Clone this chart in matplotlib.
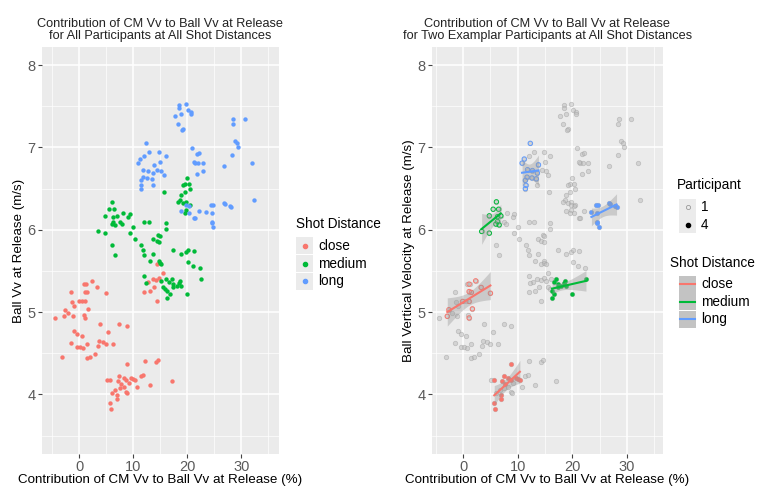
import numpy as np
import matplotlib
matplotlib.use("Agg")
import matplotlib.pyplot as plt
from matplotlib.patches import Rectangle
from matplotlib.lines import Line2D

plt.rcParams['font.family'] = ['Liberation Sans', 'DejaVu Sans']

# all participants, by shot distance (contribution %, ball Vv m/s)
close_x = [-4.4, -2.9, -2.6, -2.0, -1.5, -1.35, -0.9, -1.2, -0.1, 0.5, 1.1, 0.8, 1.3, 1.1, 1.5, 2.3,
           3.3, 5.0, 1.7, 0.9, 1.1, -1.0, -0.4, 0.5, -1.5, -0.4, 0.2, 0.7, 1.4, 1.5, 2.0, 3.0, 3.9,
           3.7, 3.5, 4.4, 5.0, 5.4, 6.3, 7.4, 8.8, -3.2,
           5.1, 5.7, 5.7, 5.8, 6.0, 6.7, 7.0, 6.9, 7.2, 7.4, 8.2, 8.3, 8.7, 8.7, 8.9, 9.2, 8.8, 9.6,
           10.0, 10.4, 10.7, 11.4, 11.8, 12.1, 13.1, 14.2, 14.6, 17.1, 7.7, 7.5,
           14.3, 15.5, 13.6, 14.2, 14.8, 13.9, 13.1, 12.0, 14.3, 12.8]
close_y = [4.93, 4.95, 5.03, 4.99, 5.25, 5.12, 5.08, 4.95, 5.13, 5.13, 5.13, 5.34, 5.34, 5.25, 5.24, 5.38,
           5.30, 5.23, 5.04, 4.97, 4.93, 4.77, 4.73, 4.71, 4.63, 4.58, 4.58, 4.56, 4.61, 4.44, 4.45, 4.49, 4.85,
           4.65, 4.59, 4.64, 4.61, 4.76, 4.61, 4.85, 4.83, 4.46,
           4.18, 4.17, 3.90, 3.82, 4.02, 4.05, 3.99, 3.94, 4.16, 4.22, 4.20, 4.09, 4.18, 4.03, 4.02, 4.14, 4.37, 4.20,
           4.19, 4.17, 4.09, 4.23, 4.24, 4.41, 4.11, 4.40, 4.42, 4.16, 4.13, 4.08,
           5.58, 5.48, 5.40, 5.39, 5.41, 5.30, 5.26, 5.25, 5.13, 5.36]

medium_x = [6.1, 5.5, 6.5, 4.8, 6.3, 6.9, 6.3, 6.0, 6.6, 7.55, 8.0, 9.3, 9.1, 7.9, 10.0, 12.0, 12.95,
            16.0, 16.0, 3.4, 4.8, 9.3, 10.3, 13.7, 14.6, 14.9, 14.3, 14.8, 6.1, 11.5, 6.6, 11.8, 12.0,
            13.7, 17.4, 18.9, 19.8, 14.8, 14.9, 13.1, 15.2, 20.1, 21.2, 20.1, 21.0, 22.3, 22.5,
            12.0, 12.3, 15.2, 15.5, 16.1, 16.6, 17.1, 15.9, 16.3, 16.7, 16.3, 17.4, 18.0, 18.4, 18.9,
            18.6, 20.0, 17.4,
            19.9, 19.5, 19.2, 20.3, 20.4, 19.5, 18.9, 18.6, 18.3, 19.2, 19.8, 19.7, 19.5, 15.7, 20.4]
medium_y = [6.34, 6.25, 6.25, 6.17, 6.16, 6.17, 6.10, 6.07, 6.06, 6.10, 6.20, 6.19, 6.15, 6.07, 6.04, 6.09, 6.09,
            6.08, 6.01, 5.98, 5.96, 5.96, 5.89, 5.89, 5.94, 5.92, 5.86, 5.85, 5.82, 5.82, 5.69, 5.75, 5.69,
            5.71, 5.75, 5.71, 5.73, 5.62, 5.60, 5.62, 5.59, 5.75, 5.74, 5.61, 5.56, 5.54, 5.40,
            5.44, 5.35, 5.38, 5.30, 5.40, 5.37, 5.40, 5.28, 5.26, 5.22, 5.17, 5.30, 5.32, 5.35, 5.32,
            5.38, 5.22, 5.34,
            6.63, 6.56, 6.54, 6.56, 6.50, 6.46, 6.42, 6.36, 6.34, 6.32, 6.34, 6.24, 6.20, 6.46, 6.30]

long_x = [18.4, 19.7, 18.4, 18.9, 20.1, 20.6, 20.7, 17.7, 18.3, 19.2, 19.0,
          12.3, 12.9, 12.0, 14.8, 16.0, 11.2, 10.8, 15.0, 13.8, 11.8, 12.7, 13.6, 14.4, 15.2, 15.6,
          11.7, 12.6, 13.4, 11.4, 11.5, 13.6, 11.4,
          20.9, 21.7, 22.1, 21.4, 22.0, 22.9, 22.9, 21.7, 21.2,
          18.9, 20.3, 21.2, 22.2, 23.5, 24.7, 24.5, 24.6, 24.8, 26.7, 27.8, 24.3, 26.9, 28.1, 24.5,
          19.8, 21.4, 20.3,
          26.7, 28.3, 28.5, 28.4, 30.7, 28.9, 29.2, 29.4, 32.0, 32.4]
long_y = [7.51, 7.53, 7.48, 7.41, 7.46, 7.43, 7.41, 7.38, 7.28, 7.22, 7.21,
          7.05, 6.95, 6.90, 6.95, 6.90, 6.86, 6.81, 6.82, 6.79, 6.73, 6.72, 6.69, 6.73, 6.72, 6.67,
          6.64, 6.63, 6.62, 6.60, 6.54, 6.55, 6.50,
          6.99, 6.92, 6.93, 6.81, 6.81, 6.81, 6.71, 6.68, 6.82,
          6.23, 6.29, 6.14, 6.23, 6.22, 6.30, 6.20, 6.09, 6.04, 6.33, 6.29, 6.30, 6.31, 6.28, 6.08,
          6.30, 6.14, 6.20,
          6.78, 6.91, 7.34, 7.29, 7.35, 7.08, 7.06, 7.01, 6.81, 6.36]

# exemplar participants 1 (open) and 4 (filled)
p1_close_x = [-2.9, -2.6, -0.1, 1.1, 1.1, 2.3, 1.1, 1.5, 5.0, 1.7, 1.1, 3.3]
p1_close_y = [4.95, 5.03, 5.13, 5.13, 5.34, 5.38, 5.25, 5.24, 5.23, 5.04, 4.93, 5.30]
p4_close_x = [5.8, 5.7, 7.0, 6.9, 7.4, 8.8, 8.7, 9.6, 10.0, 10.4, 7.7, 5.7, 8.2, 7.2]
p4_close_y = [3.82, 3.90, 3.99, 3.94, 4.22, 4.37, 4.18, 4.20, 4.19, 4.17, 4.13, 4.17, 4.20, 4.16]
p1_medium_x = [3.4, 4.8, 5.5, 6.1, 6.5, 6.3, 6.9, 6.3, 6.0, 6.6, 4.8]
p1_medium_y = [5.98, 6.17, 6.25, 6.34, 6.25, 6.16, 6.17, 6.10, 6.07, 6.06, 5.96]
p4_medium_x = [16.6, 17.1, 18.4, 18.0, 18.9, 20.0, 22.5, 16.3, 16.7, 17.4, 16.3, 17.4, 18.6]
p4_medium_y = [5.37, 5.40, 5.35, 5.32, 5.32, 5.22, 5.40, 5.26, 5.22, 5.30, 5.17, 5.34, 5.38]
p1_long_x = [12.3, 11.2, 10.8, 11.7, 11.4, 11.5, 11.4, 12.6, 13.4, 13.6, 12.7, 11.8, 13.8]
p1_long_y = [7.05, 6.86, 6.81, 6.64, 6.60, 6.54, 6.50, 6.63, 6.62, 6.69, 6.72, 6.73, 6.79]
p4_long_x = [23.5, 24.3, 24.7, 24.5, 24.6, 24.8, 26.7, 26.9, 27.8, 28.1, 24.5]
p4_long_y = [6.22, 6.30, 6.30, 6.20, 6.09, 6.04, 6.33, 6.31, 6.29, 6.28, 6.08]

distances = ['close', 'medium', 'long']
colors = {'close': '#F8766D', 'medium': '#00BA38', 'long': '#619CFF'}

PANEL = '#EBEBEB'
TXT = '#5A5A5A'
FS_AX = 9.6
FS_LEG = 9.8


def style_axes(ax, xlim, ylim):
    ax.set_facecolor(PANEL)
    ax.set_xlim(*xlim)
    ax.set_ylim(*ylim)
    ax.set_xticks([0, 10, 20, 30])
    ax.set_yticks([4, 5, 6, 7, 8])
    ax.set_xticks([-5, 5, 15, 25, 35], minor=True)
    ax.set_yticks([3.5, 4.5, 5.5, 6.5, 7.5], minor=True)
    ax.grid(which='major', color='white', linewidth=1.1)
    ax.grid(which='minor', color='white', linewidth=0.5)
    ax.set_axisbelow(True)
    for s in ax.spines.values():
        s.set_visible(False)
    ax.tick_params(which='major', length=3, color='#444444', labelsize=10.5, labelcolor=TXT, pad=1.5)
    ax.tick_params(which='minor', length=0)


def smooth_band(x, y, n=60):
    x = np.asarray(x)
    y = np.asarray(y)
    b, a = np.polyfit(x, y, 1)
    xs = np.linspace(x.min(), x.max(), n)
    fit = a + b * xs
    resid = y - (a + b * x)
    df = len(x) - 2
    s = np.sqrt((resid ** 2).sum() / df)
    t = 1.96 + 2.4 / df
    se = s * np.sqrt(1 / len(x) + (xs - x.mean()) ** 2 / ((x - x.mean()) ** 2).sum())
    return xs, fit, fit - t * se, fit + t * se


fig = plt.figure(figsize=(7.7, 4.9), dpi=100)
ax1 = fig.add_axes([0.0545, 0.074, 0.3075, 0.830])
ax2 = fig.add_axes([0.561, 0.074, 0.300, 0.830])

all_data = {'close': (close_x, close_y), 'medium': (medium_x, medium_y), 'long': (long_x, long_y)}

# left panel
style_axes(ax1, (-6.9, 36.9), (3.28, 8.22))
for d in distances:
    ax1.scatter(all_data[d][0], all_data[d][1], s=10, color=colors[d], linewidths=0, zorder=3)
ax1.set_title('Contribution of CM Vv to Ball Vv at Release\nfor All Participants at All Shot Distances',
              fontsize=9.2, color='#222222', pad=6, linespacing=1.0)
ax1.set_xlabel('Contribution of CM Vv to Ball Vv at Release (%)', fontsize=FS_AX, labelpad=0)
ax1.set_ylabel('Ball Vv at Release (m/s)', fontsize=FS_AX, labelpad=2)

# right panel
style_axes(ax2, (-5.7, 36.6), (3.28, 8.22))
for d in distances:
    ax2.scatter(all_data[d][0], all_data[d][1], s=10, facecolor='#BDBDBD', edgecolor='#A0A0A0',
                linewidths=0.6, alpha=0.5, zorder=2)

groups = [
    ('close', p1_close_x, p1_close_y, True), ('close', p4_close_x, p4_close_y, False),
    ('medium', p1_medium_x, p1_medium_y, True), ('medium', p4_medium_x, p4_medium_y, False),
    ('long', p1_long_x, p1_long_y, True), ('long', p4_long_x, p4_long_y, False),
]
for d, gx, gy, hollow in groups:
    if hollow:
        ax2.scatter(gx, gy, s=10, facecolor='none', edgecolor=colors[d], linewidths=0.7, zorder=3)
    else:
        ax2.scatter(gx, gy, s=10, color=colors[d], linewidths=0, zorder=3)
    xs, fit, lo, hi = smooth_band(gx, gy)
    ax2.fill_between(xs, lo, hi, color='#999999', alpha=0.4, linewidth=0, zorder=4)
    ax2.plot(xs, fit, color=colors[d], linewidth=1.5, zorder=5)

ax2.set_title('Contribution of CM Vv to Ball Vv at Release\nfor Two Examplar Participants at All Shot Distances',
              fontsize=9.2, color='#222222', pad=6, linespacing=1.0)
ax2.set_xlabel('Contribution of CM Vv to Ball Vv at Release (%)', fontsize=FS_AX, labelpad=0)
ax2.set_ylabel('Ball Vertical Velocity at Release (m/s)', fontsize=FS_AX, labelpad=2)

# legends (drawn by hand to get ggplot-style keys)
W, H = 770, 490


def fx(px):
    return px / W


def fy(py):
    return 1 - py / H


def key_box(px, py, size=17, color=PANEL):
    fig.add_artist(Rectangle((fx(px), fy(py + size / 2)), size / W, size / H,
                             facecolor=color, edgecolor='none', transform=fig.transFigure))


# left legend
fig.text(fx(296), fy(224), 'Shot Distance', fontsize=FS_LEG, va='center', ha='left')
for i, d in enumerate(distances):
    py = 246 + i * 17.5
    key_box(296, py)
    fig.add_artist(Line2D([fx(304.5)], [fy(py)], marker='o', markersize=3, color=colors[d],
                          linestyle='none', transform=fig.transFigure))
    fig.text(fx(318), fy(py), d, fontsize=FS_LEG, va='center', ha='left')

# right legend: participant
fig.text(fx(677), fy(185), 'Participant', fontsize=FS_LEG, va='center', ha='left')
for i, (lab, hollow) in enumerate([('1', True), ('4', False)]):
    py = 207 + i * 17.5
    key_box(679, py)
    if hollow:
        fig.add_artist(Line2D([fx(687.5)], [fy(py)], marker='o', markersize=3, markerfacecolor='none',
                              markeredgecolor='#999999', markeredgewidth=0.6, linestyle='none',
                              transform=fig.transFigure))
    else:
        fig.add_artist(Line2D([fx(687.5)], [fy(py)], marker='o', markersize=3, color='black',
                              linestyle='none', transform=fig.transFigure))
    fig.text(fx(701), fy(py), lab, fontsize=FS_LEG, va='center', ha='left')

# right legend: shot distance
fig.text(fx(670), fy(263), 'Shot Distance', fontsize=FS_LEG, va='center', ha='left')
for i, d in enumerate(distances):
    py = 284 + i * 17.5
    key_box(679, py, color='#C3C3C3')
    fig.add_artist(Line2D([fx(680), fx(695)], [fy(py), fy(py)], color=colors[d], linewidth=1.5,
                          transform=fig.transFigure))
    fig.text(fx(701), fy(py), d, fontsize=FS_LEG, va='center', ha='left')

fig.savefig('out.png', dpi=100)
